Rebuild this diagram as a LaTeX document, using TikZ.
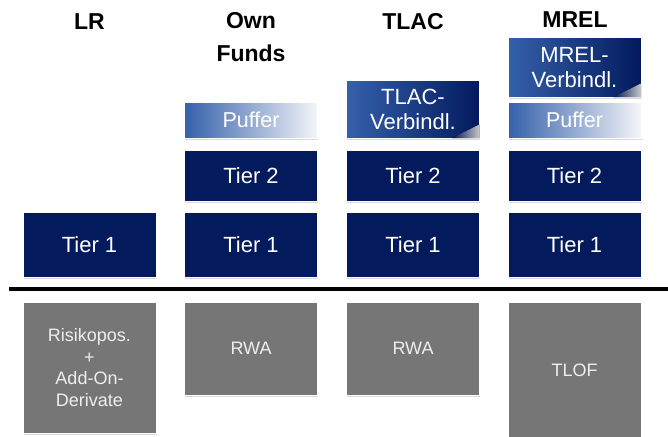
\documentclass[tikz,border=0pt]{standalone}
\usepackage{fontspec}
\setmainfont{Liberation Sans}
\usetikzlibrary{shadows}
\definecolor{navy}{HTML}{031A5D}
\definecolor{pblue}{HTML}{3560AA}
\definecolor{pwhite}{HTML}{F4F5F9}
\definecolor{vblue}{HTML}{3560AA}
\definecolor{boxgray}{HTML}{767676}
\definecolor{gtext}{HTML}{EEEEEE}
\tikzset{
  box/.style={rectangle, inner sep=0pt, draw=white, line width=1pt,
    minimum width=133pt, align=center,
    drop shadow={shadow xshift=0.8pt, shadow yshift=-1.5pt, opacity=0.3, fill=gray}},
  tierbox/.style={box, fill=navy, text=white, font=\fontsize{22}{24}\selectfont},
  pufbox/.style={box, left color=pblue, middle color=pblue!55!pwhite, right color=pwhite,
    text=white, font=\fontsize{21.5}{24}\selectfont},
  verbox/.style={box, left color=vblue, right color=navy, text=white,
    font=\fontsize{22}{25}\selectfont},
  graybox/.style={box, fill=boxgray, text=gtext, font=\fontsize{18}{21.5}\selectfont},
  head/.style={font=\bfseries\fontsize{23}{33}\selectfont, align=center, inner sep=0pt},
  glint/.style={left color=navy, right color=white!85!gray, opacity=0.85},
  sepline/.style={line width=3.5pt, black}
}
\begin{document}
\begin{tikzpicture}[x=1pt, y=-1pt]
\useasboundingbox (0,0) rectangle (668,436);
% headers
\node[head] (hlr) at (89.5,22) {LR};
\node[head] (hof) at (251,37) {Own\\Funds};
\node[head] (htlac) at (413,22) {TLAC};
\node[head] (hmrel) at (575,20) {MREL};
% LR
\node[tierbox, minimum height=65pt] (lrt1) at (89.5,244.5) {Tier 1};
\node[graybox, minimum height=131pt] (lrg) at (89.5,367.5) {Risikopos.\\+\\Add-On-\\Derivate};
% Own Funds
\node[pufbox, minimum height=36pt] (ofp) at (251,120) {Puffer};
\node[tierbox, minimum height=51pt] (oft2) at (251,175.5) {Tier 2};
\node[tierbox, minimum height=65pt] (oft1) at (251,244.5) {Tier 1};
\node[graybox, minimum height=93pt] (ofg) at (251,348.5) {RWA};
% TLAC
\node[verbox, minimum height=58pt] (tv) at (413,109) {TLAC-\\Verbindl.};
\node[tierbox, minimum height=51pt] (tt2) at (413,175.5) {Tier 2};
\node[tierbox, minimum height=65pt] (tt1) at (413,244.5) {Tier 1};
\node[graybox, minimum height=93pt] (tg) at (413,348.5) {RWA};
% MREL
\node[verbox, minimum height=59pt] (mv) at (574.5,67.5) {MREL-\\Verbindl.};
\node[pufbox, minimum height=36pt] (mp) at (574.5,120) {Puffer};
\node[tierbox, minimum height=51pt] (mt2) at (574.5,175.5) {Tier 2};
\node[tierbox, minimum height=65pt] (mt1) at (574.5,244.5) {Tier 1};
\node[graybox, minimum height=136pt] (mg) at (574.5,370) {TLOF};
% glints
\fill[glint] ([xshift=-28pt,yshift=0.5pt]tv.south east) -- ([xshift=-0.5pt,yshift=0.5pt]tv.south east) -- ([xshift=-0.5pt,yshift=14pt]tv.south east) -- cycle;
\fill[glint] ([xshift=-28pt,yshift=0.5pt]mv.south east) -- ([xshift=-0.5pt,yshift=0.5pt]mv.south east) -- ([xshift=-0.5pt,yshift=14pt]mv.south east) -- cycle;
% separator
\coordinate (sl) at (9,289);
\coordinate (sr) at (668,289);
\draw[sepline] (sl) -- (sr);
\end{tikzpicture}
\end{document}
